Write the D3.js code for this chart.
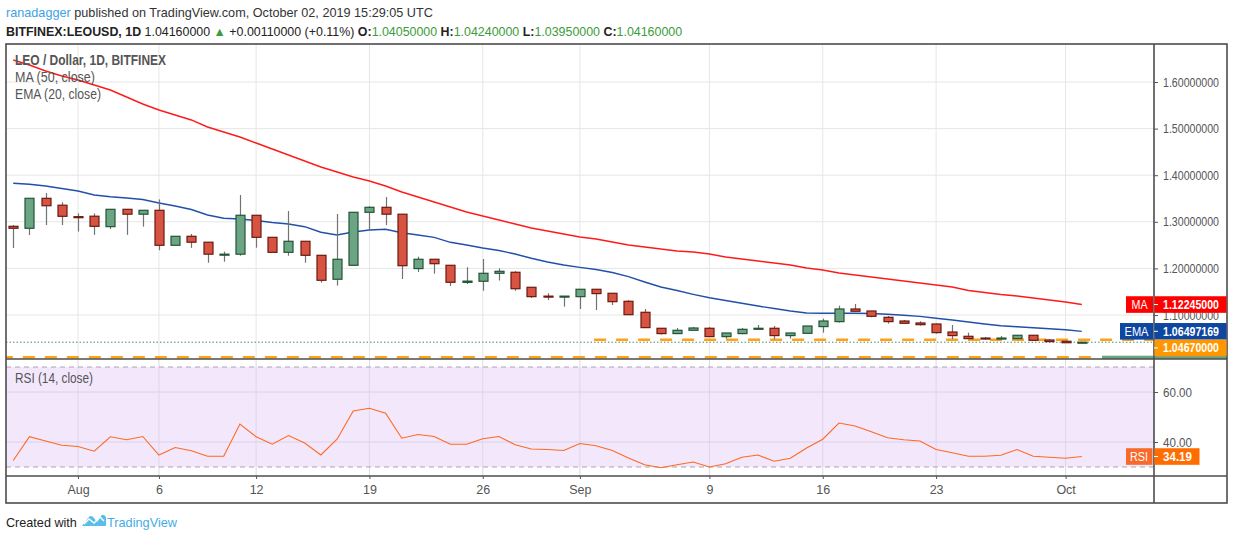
<!DOCTYPE html>
<html>
<head>
<meta charset="utf-8">
<script src="https://cdn.jsdelivr.net/npm/d3@7"></script>
<style>
  body { margin: 0; background: #fff; }
  text { font-family: "Liberation Sans", Arial, sans-serif; }
</style>
</head>
<body>
<div id="chart"></div>
<script>
// daily candles, LEO / USD (Bitfinex)
const dates = [
  "2019-07-28","2019-07-29","2019-07-30","2019-07-31",
  "2019-08-01","2019-08-02","2019-08-03","2019-08-04","2019-08-05","2019-08-06","2019-08-07","2019-08-08",
  "2019-08-09","2019-08-10","2019-08-11","2019-08-12","2019-08-13","2019-08-14","2019-08-15","2019-08-16",
  "2019-08-17","2019-08-18","2019-08-19","2019-08-20","2019-08-21","2019-08-22","2019-08-23","2019-08-24",
  "2019-08-25","2019-08-26","2019-08-27","2019-08-28","2019-08-29","2019-08-30","2019-08-31",
  "2019-09-01","2019-09-02","2019-09-03","2019-09-04","2019-09-05","2019-09-06","2019-09-07","2019-09-08",
  "2019-09-09","2019-09-10","2019-09-11","2019-09-12","2019-09-13","2019-09-14","2019-09-15","2019-09-16",
  "2019-09-17","2019-09-18","2019-09-19","2019-09-20","2019-09-21","2019-09-22","2019-09-23","2019-09-24",
  "2019-09-25","2019-09-26","2019-09-27","2019-09-28","2019-09-29","2019-09-30",
  "2019-10-01","2019-10-02"
];
const open = [1.2903,1.2861,1.3504,1.3356,1.3110,1.3120,1.2896,1.3268,1.3163,1.3247,1.2496,1.2689,
  1.2562,1.2300,1.2305,1.3140,1.2667,1.2345,1.2582,1.2281,1.1767,1.2067,1.3204,1.3311,1.3163,1.1996,
  1.2196,1.2067,1.1700,1.1724,1.1895,1.1917,1.1595,1.1405,1.1398,1.1394,1.1552,1.1466,1.1294,1.1058,
  1.0715,1.0601,1.0672,1.0715,1.0536,1.0601,1.0705,1.0715,1.0558,1.0607,1.0751,1.0858,1.1129,1.1086,
  1.0950,1.0871,1.0829,1.0807,1.0635,1.0543,1.0505,1.0498,1.0493,1.0565,1.0464,1.0436,1.0405];
const high = [1.2930,1.3504,1.3618,1.3420,1.3180,1.3180,1.3268,1.3268,1.3247,1.3480,1.2689,1.2740,
  1.2562,1.2359,1.3575,1.3140,1.2667,1.3232,1.2582,1.2281,1.3168,1.3204,1.3333,1.3530,1.3163,1.2253,
  1.2196,1.2067,1.2026,1.2202,1.2002,1.1940,1.1595,1.1466,1.1405,1.1552,1.1552,1.1466,1.1320,1.1129,
  1.0715,1.0721,1.0743,1.0743,1.0614,1.0721,1.0786,1.0764,1.0614,1.0764,1.0922,1.1201,1.1236,1.1086,
  1.0979,1.0893,1.0865,1.0822,1.0786,1.0622,1.0529,1.0550,1.0565,1.0565,1.0486,1.0436,1.0424];
const low = [1.2438,1.2717,1.2931,1.2930,1.2790,1.2720,1.2846,1.2720,1.2897,1.2390,1.2496,1.2440,
  1.2122,1.2144,1.2272,1.2444,1.2345,1.2272,1.2122,1.1695,1.1630,1.2067,1.2820,1.2930,1.1773,1.1923,
  1.1886,1.1622,1.1665,1.1520,1.1740,1.1520,1.1365,1.1322,1.1180,1.1129,1.1107,1.1215,1.1007,1.0729,
  1.0580,1.0601,1.0672,1.0536,1.0493,1.0587,1.0705,1.0479,1.0493,1.0607,1.0622,1.0837,1.1080,1.0950,
  1.0815,1.0822,1.0772,1.0600,1.0479,1.0479,1.0479,1.0498,1.0493,1.0457,1.0429,1.0405,1.0395];
const close = [1.2861,1.3504,1.3345,1.3118,1.3100,1.2903,1.3268,1.3163,1.3247,1.2496,1.2689,1.2562,
  1.2305,1.2305,1.3140,1.2667,1.2345,1.2582,1.2281,1.1745,1.2196,1.3204,1.3311,1.3163,1.2058,1.2196,
  1.2101,1.1702,1.1727,1.1895,1.1938,1.1564,1.1394,1.1398,1.1405,1.1552,1.1459,1.1286,1.1007,1.0729,
  1.0601,1.0672,1.0721,1.0536,1.0614,1.0693,1.0715,1.0558,1.0614,1.0764,1.0871,1.1129,1.1080,1.0972,
  1.0858,1.0822,1.0793,1.0622,1.0558,1.0493,1.0498,1.0505,1.0565,1.0457,1.0429,1.0405,1.0416];

// indicators
const ma50 = [1.6472,1.6365,1.6236,1.6129,1.6043,1.5936,1.5828,1.5678,1.5528,1.5399,1.5292,1.5185,
  1.5034,1.4927,1.4820,1.4691,1.4562,1.4433,1.4305,1.4176,1.4069,1.3961,1.3876,1.3768,1.3639,1.3532,
  1.3425,1.3318,1.3210,1.3124,1.3039,1.2953,1.2867,1.2803,1.2738,1.2674,1.2631,1.2567,1.2502,1.2459,
  1.2416,1.2373,1.2352,1.2309,1.2245,1.2202,1.2159,1.2116,1.2073,1.2009,1.1966,1.1901,1.1858,1.1815,
  1.1773,1.1730,1.1687,1.1644,1.1601,1.1526,1.1483,1.1440,1.1408,1.1365,1.1322,1.1279,1.12245];
const ema20 = [1.3826,1.3805,1.3768,1.3715,1.3661,1.3575,1.3539,1.3511,1.3479,1.3403,1.3339,1.3264,
  1.3146,1.3075,1.3060,1.3028,1.2985,1.2953,1.2895,1.2775,1.2717,1.2781,1.2824,1.2839,1.2766,1.2717,
  1.2667,1.2560,1.2502,1.2438,1.2384,1.2309,1.2217,1.2137,1.2073,1.2023,1.1976,1.1912,1.1822,1.1708,
  1.1601,1.1526,1.1444,1.1369,1.1311,1.1251,1.1193,1.1139,1.1086,1.1043,1.1036,1.1036,1.1036,1.1032,
  1.1017,1.0996,1.0970,1.0929,1.0893,1.0850,1.0807,1.0768,1.0747,1.0727,1.0704,1.0682,1.06497169];
const rsi = [32.6,42.1,40.4,38.7,38.2,36.3,42.1,40.9,42.2,34.8,37.8,36.5,34.3,34.3,47.2,42.1,39.1,
  42.6,39.6,34.8,41.1,52.4,53.5,51.5,41.5,43.0,42.2,39.1,39.1,41.3,42.2,38.9,37.2,37.0,36.6,39.4,
  38.5,36.6,33.6,30.9,29.7,30.9,32.0,30.0,31.3,33.9,34.8,32.3,33.5,37.6,41.1,47.6,46.4,44.1,41.7,
  40.9,40.4,37.0,35.7,34.3,34.3,34.7,37.0,34.3,33.9,33.5,34.19];

// drawn horizontal levels
const levelPrice = [1.0467, 1.0092];
const levelStart = ["2019-09-02", "2019-07-26"];

// ticks
const priceTicks = [1.1, 1.2, 1.3, 1.4, 1.5, 1.6];
const rsiTicks = [40, 60];
const timeTicks = ["2019-08-01","2019-08-06","2019-08-12","2019-08-19","2019-08-26",
                   "2019-09-01","2019-09-09","2019-09-16","2019-09-23","2019-10-01"];
const timeTickLabels = ["Aug","6","12","19","26","Sep","9","16","23","Oct"];

const W = 1234, H = 540;
const L = 6, R = 1154, AX = 1227, T = 44, MB = 359, RB = 476, XB = 503;

const upFill = "#6ba583", upLine = "#225437", dnFill = "#d75442", dnLine = "#6b1a10";
const wick = "#737375";

// the snapshot font is narrow, squeeze text to its width
const fit = (sel, len) => sel.attr("textLength", len).attr("lengthAdjust", "spacingAndGlyphs");
// shrink the font until the text's natural width is the target width
function shrinkTo(sel, len, size) {
  sel.attr("font-size", size);
  const w = sel.node().getComputedTextLength();
  if (w > len) sel.attr("font-size", size * len / w);
}
const f8 = d3.format(".8f");
const last = arr => arr[arr.length - 1];

const parse = d3.utcParse("%Y-%m-%d");
const candles = dates.map((d, i) => ({
  date: parse(d), o: open[i], h: high[i], l: low[i], c: close[i],
  ma: ma50[i], ema: ema20[i], rsi: rsi[i]
}));

const x = d3.scaleUtc()
  .domain([parse("2019-08-01"), parse("2019-10-01")])
  .range([78, 1065.6]);
const y = d3.scaleLinear().domain([1.1, 1.6]).range([315, 82]);
const yR = d3.scaleLinear().domain([30, 70]).range([467, 367]);

const svg = d3.select("#chart").append("svg")
  .attr("width", W).attr("height", H);

svg.append("defs").append("clipPath").attr("id", "mainclip")
  .append("rect").attr("x", L).attr("y", T).attr("width", R - L).attr("height", MB - T);

// RSI band
svg.append("rect")
  .attr("x", L).attr("y", yR(70)).attr("width", R - L).attr("height", yR(30) - yR(70))
  .attr("fill", "#f3e7fc");

// grid
const grid = svg.append("g");
grid.selectAll("line.hp").data(priceTicks).enter().append("line")
  .attr("x1", L).attr("x2", R).attr("y1", d => y(d)).attr("y2", d => y(d))
  .attr("stroke", "#e6e6e6");
grid.selectAll("line.hr").data(rsiTicks).enter().append("line")
  .attr("x1", L).attr("x2", R).attr("y1", d => yR(d)).attr("y2", d => yR(d))
  .attr("stroke", "#dccfe8");
grid.selectAll("line.vm").data(timeTicks).enter().append("line")
  .attr("x1", d => x(parse(d))).attr("x2", d => x(parse(d)))
  .attr("y1", T).attr("y2", MB).attr("stroke", "#e6e6e6");
grid.selectAll("line.vr").data(timeTicks).enter().append("line")
  .attr("x1", d => x(parse(d))).attr("x2", d => x(parse(d)))
  .attr("y1", MB).attr("y2", RB).attr("stroke", "#dfd5ea");

// RSI 70 / 30 bounds
svg.selectAll("line.bound").data([70, 30]).enter().append("line")
  .attr("x1", L).attr("x2", R).attr("y1", d => yR(d)).attr("y2", d => yR(d))
  .attr("stroke", "#a9a4b0").attr("stroke-dasharray", "5,4");

const main = svg.append("g").attr("clip-path", "url(#mainclip)");

// orange levels
main.selectAll("line.level").data(levelPrice).enter().append("line")
  .attr("x1", (d, i) => x(parse(levelStart[i])) - 2)
  .attr("x2", (d, i) => i === 0 ? R : 1100)
  .attr("y1", d => y(d)).attr("y2", d => y(d))
  .attr("stroke", "#ff9800").attr("stroke-width", 2.5)
  .attr("stroke-dasharray", "12,10").attr("opacity", 0.9);

// last price line
main.append("line")
  .attr("x1", L).attr("x2", R)
  .attr("y1", y(last(close))).attr("y2", y(last(close)))
  .attr("stroke", "#4f8a67").attr("stroke-dasharray", "1.5,2");

// moving averages
main.append("path").datum(candles)
  .attr("d", d3.line().x(d => x(d.date)).y(d => y(d.ma)))
  .attr("fill", "none").attr("stroke", "#ff1a1a").attr("stroke-width", 1.4);
main.append("path").datum(candles)
  .attr("d", d3.line().x(d => x(d.date)).y(d => y(d.ema)))
  .attr("fill", "none").attr("stroke", "#2150a8").attr("stroke-width", 1.4);

// candles
const cg = main.selectAll("g.candle").data(candles).enter().append("g");
cg.append("line")
  .attr("x1", d => Math.round(x(d.date)) + 0.5).attr("x2", d => Math.round(x(d.date)) + 0.5)
  .attr("y1", d => y(d.h)).attr("y2", d => y(d.l))
  .attr("stroke", wick).attr("stroke-width", 1.2);
cg.append("rect")
  .attr("x", d => Math.round(x(d.date)) - 4)
  .attr("width", 9)
  .attr("y", d => y(Math.max(d.o, d.c)))
  .attr("height", d => Math.max(1, Math.abs(y(d.o) - y(d.c))))
  .attr("fill", d => d.c >= d.o ? upFill : dnFill)
  .attr("stroke", d => d.c >= d.o ? upLine : dnLine)
  .attr("stroke-width", 1.2);

// green strip bottom right
svg.append("rect").attr("x", 1102).attr("y", 355.7).attr("width", AX - 1102).attr("height", MB - 355.7)
  .attr("fill", upFill);

// RSI line
svg.append("path").datum(candles)
  .attr("d", d3.line().x(d => x(d.date)).y(d => yR(d.rsi)))
  .attr("fill", "none").attr("stroke", "#ff6a1f").attr("stroke-width", 1.1);

// frame
const frame = svg.append("g").attr("stroke", "#4d4d4d").attr("stroke-width", 1.6).attr("fill", "none");
frame.append("rect").attr("x", L).attr("y", T).attr("width", AX - L).attr("height", XB - T);
frame.append("line").attr("x1", R).attr("x2", R).attr("y1", T).attr("y2", XB);
frame.append("line").attr("x1", L).attr("x2", AX).attr("y1", MB).attr("y2", MB);
frame.append("line").attr("x1", L).attr("x2", AX).attr("y1", RB).attr("y2", RB);

// axes
const styleAxis = g => {
  g.select(".domain").remove();
  g.selectAll(".tick line").attr("stroke", "#555");
  g.selectAll(".tick text").attr("fill", "#555").attr("font-size", 12.5)
    .attr("font-family", '"Liberation Sans", Arial, sans-serif');
};
svg.append("g").attr("transform", `translate(${R},0)`)
  .call(d3.axisRight(y).tickValues(priceTicks).tickFormat(f8).tickSize(4).tickPadding(5))
  .call(styleAxis)
  .selectAll(".tick text").call(fit, 56);
svg.append("g").attr("transform", `translate(${R},0)`)
  .call(d3.axisRight(yR).tickValues(rsiTicks).tickFormat(d3.format(".2f")).tickSize(4).tickPadding(5))
  .call(styleAxis)
  .selectAll(".tick text").call(fit, 29);
svg.append("g").attr("transform", `translate(0,${RB})`)
  .call(d3.axisBottom(x).tickValues(timeTicks.map(parse))
    .tickFormat((d, i) => timeTickLabels[i]).tickSize(3).tickPadding(6))
  .call(styleAxis);

// price tags
function tag(label, value, cy, color, tagX) {
  const h = 16.6;
  if (label) {
    svg.append("rect").attr("x", tagX).attr("y", cy - h / 2).attr("width", R - 1 - tagX).attr("height", h)
      .attr("fill", color);
    svg.append("text").attr("x", (tagX + R - 1) / 2).attr("y", cy + 4.5)
      .attr("text-anchor", "middle").attr("fill", "#fff").attr("font-size", 12.5)
      .text(label).call(fit, label.length * 8);
  }
  svg.append("rect").attr("x", R + 0.5).attr("y", cy - h / 2).attr("width", AX - R - 1).attr("height", h)
    .attr("fill", color);
  svg.append("line").attr("x1", R).attr("x2", R + 4).attr("y1", cy).attr("y2", cy).attr("stroke", "#fff");
  svg.append("text").attr("x", 1163).attr("y", cy + 4.5).attr("fill", "#fff")
    .attr("font-size", 12.5).attr("font-weight", "bold").text(value).call(fit, 56);
}
tag("MA", f8(last(ma50)), y(last(ma50)), "#ff0000", 1126);
tag("EMA", f8(last(ema20)), y(last(ema20)), "#0d47a1", 1120);
// level tag is pushed below the EMA tag
tag(null, f8(levelPrice[0]), y(last(ema20)) + 16.6, "#ff9800", 0);

// RSI tag
const rsiY = yR(last(rsi));
svg.append("rect").attr("x", 1126).attr("y", rsiY - 8.3).attr("width", 26.5).attr("height", 16.6).attr("fill", "#f8692a");
svg.append("text").attr("x", 1139).attr("y", rsiY + 4.5).attr("text-anchor", "middle")
  .attr("fill", "#fff").attr("font-size", 12.5).text("RSI").call(fit, 18);
svg.append("rect").attr("x", R + 0.5).attr("y", rsiY - 8.3).attr("width", 45).attr("height", 16.6).attr("fill", "#ff6d00");
svg.append("line").attr("x1", R).attr("x2", R + 4).attr("y1", rsiY).attr("y2", rsiY).attr("stroke", "#fff");
svg.append("text").attr("x", 1163).attr("y", rsiY + 4.5).attr("fill", "#fff")
  .attr("font-size", 12.5).attr("font-weight", "bold").text(d3.format(".2f")(last(rsi))).call(fit, 29);

// legends
const leg = svg.append("g").attr("fill", "#555").attr("font-size", 14);
leg.append("text").attr("x", 15).attr("y", 65).attr("font-weight", "bold").text("LEO / Dollar, 1D, BITFINEX").call(fit, 151);
leg.append("text").attr("x", 15).attr("y", 82).text("MA (50, close)").call(fit, 80);
leg.append("text").attr("x", 15).attr("y", 99).text("EMA (20, close)").call(fit, 86);
leg.append("text").attr("x", 15).attr("y", 383).text("RSI (14, close)").call(fit, 78);

// header lines: [text, bold, colour] runs
const green = "#3b9c3b", ink = "#222";
const head1 = [
  ["ranadagger", false, "#3ea2e4"],
  [" published on TradingView.com, October 02, 2019 15:29:05 UTC", false, "#333"]
];
const head2 = [
  ["BITFINEX:LEOUSD, 1D", true, ink],
  [" " + f8(last(close)) + " ", false, ink],
  ["▲", false, green],
  [" +0.00110000 (+0.11%) ", false, ink],
  ["O:", true, ink], [f8(last(open)), false, green],
  [" H:", true, ink], [f8(last(high)), false, green],
  [" L:", true, ink], [f8(last(low)), false, green],
  [" C:", true, ink], [f8(last(close)), false, green]
];
[[head1, 17, 427], [head2, 36, 677]].forEach(([runs, by, len]) => {
  const t = svg.append("text").attr("x", 6).attr("y", by);
  t.selectAll("tspan").data(runs).enter().append("tspan")
    .attr("font-weight", d => d[1] ? "bold" : "normal").attr("fill", d => d[2])
    .text(d => d[0]);
  shrinkTo(t, len, 15);
});

// footer
const ft = svg.append("g");
ft.append("text").attr("x", 6).attr("y", 527).attr("fill", "#222")
  .text("Created with").call(shrinkTo, 71, 15);
ft.append("path")
  .attr("d", "M82,526 L88,518 Q91,514 94,518 L97,522 L101,516 Q103,513 106,517 L106,526 Z")
  .attr("fill", "#5bbde9");
ft.append("path")
  .attr("d", "M84,524 L89,519 L94,523 L100,517 L104,521")
  .attr("fill", "none").attr("stroke", "#fff").attr("stroke-width", 1.4);
ft.append("text").attr("x", 107).attr("y", 527).attr("fill", "#45ace6")
  .text("TradingView").call(shrinkTo, 70, 15);
</script>
</body>
</html>
